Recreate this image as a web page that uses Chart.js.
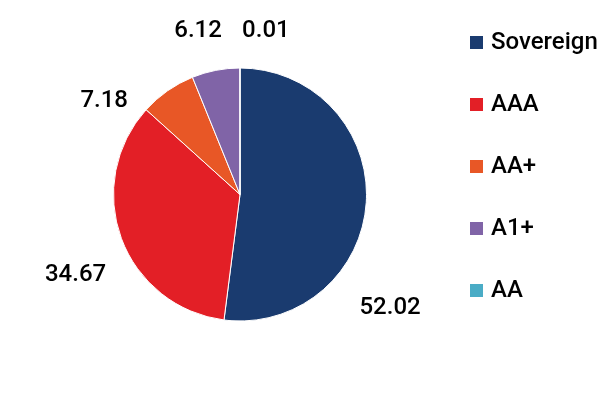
<!DOCTYPE html>
<html>
<head>
<meta charset="utf-8">
<script src="https://cdn.jsdelivr.net/npm/chart.js@4/dist/chart.umd.min.js"></script>
<style>
  html, body { margin: 0; padding: 0; background: #ffffff; }
  #wrap { width: 616px; height: 394px; position: relative; }
</style>
</head>
<body>
<div id="wrap"><canvas id="chart"></canvas></div>
<script>
const categories = ['Sovereign', 'AAA', 'AA+', 'A1+', 'AA'];
const shares = [52.02, 34.67, 7.18, 6.12, 0.01];
const valueLabels = ['52.02', '34.67', '7.18', '6.12', '0.01'];
const colors = ['#1a3b6f', '#e31f26', '#e85726', '#8064a7', '#4aacc6'];

// label placement: [angle shift in degrees, distance from centre in px]
const labelNudge = [[33.4, 188], [-5.7, 183], [-20.4, 165], [-3.3, 169], [9, 166]];

const FONT = '500 24px Roboto';

const pieLabels = {
  id: 'pieLabels',
  afterDatasetsDraw(chart) {
    const ctx = chart.ctx;
    const arcs = chart.getDatasetMeta(0).data;
    ctx.save();
    ctx.font = FONT;
    ctx.fillStyle = '#000000';
    ctx.textAlign = 'center';
    ctx.textBaseline = 'middle';
    arcs.forEach(function (arc, i) {
      const p = arc.getProps(['x', 'y', 'startAngle', 'endAngle'], true);
      const mid = (p.startAngle + p.endAngle) / 2 + labelNudge[i][0] * Math.PI / 180;
      const d = labelNudge[i][1];
      ctx.fillText(valueLabels[i], p.x + Math.cos(mid) * d, p.y + Math.sin(mid) * d);
    });
    ctx.restore();
  }
};

const sideLegend = {
  id: 'sideLegend',
  afterDraw(chart) {
    const ctx = chart.ctx;
    const ds = chart.data.datasets[0];
    ctx.save();
    ctx.font = FONT;
    ctx.textBaseline = 'middle';
    ctx.textAlign = 'left';
    chart.data.labels.forEach(function (name, i) {
      const y = 42.5 + i * 62;
      ctx.fillStyle = ds.backgroundColor[i];
      ctx.fillRect(470, y - 6.5, 13, 13);
      ctx.fillStyle = '#000000';
      ctx.fillText(name, 491, y);
    });
    ctx.restore();
  }
};

const ctx = document.getElementById('chart').getContext('2d');
const chart = new Chart(ctx, {
  type: 'pie',
  data: {
    labels: categories,
    datasets: [{
      data: shares,
      backgroundColor: colors,
      borderColor: '#ffffff',
      borderWidth: 1
    }]
  },
  options: {
    responsive: true,
    maintainAspectRatio: false,
    animation: false,
    layout: { padding: { left: 113, top: 67, right: 249, bottom: 72 } },
    plugins: {
      legend: { display: false },
      tooltip: { enabled: false }
    }
  },
  plugins: [pieLabels, sideLegend]
});
</script>
</body>
</html>
